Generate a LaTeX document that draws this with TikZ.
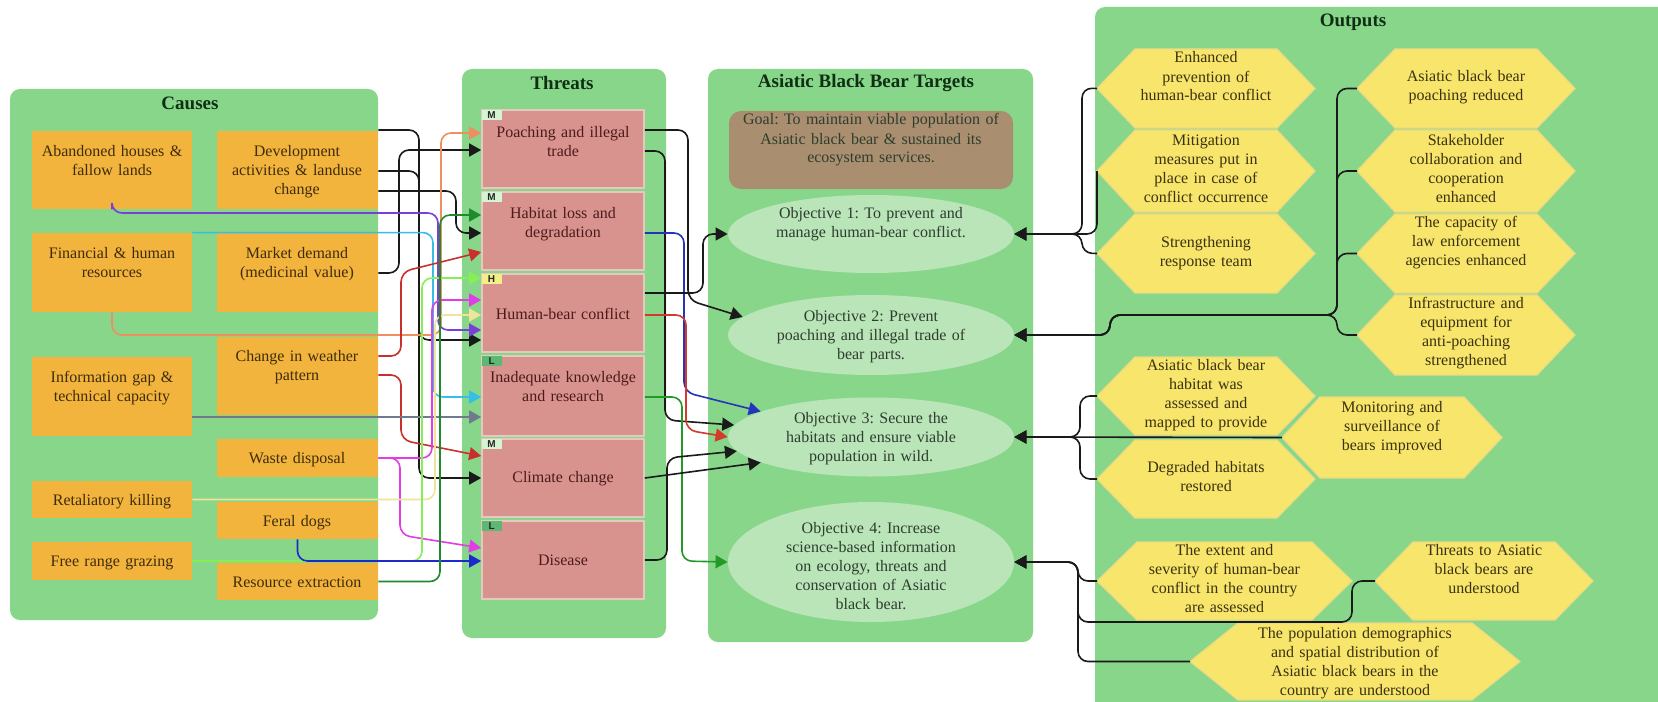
\documentclass[tikz,border=0pt]{standalone}
\usepackage{fontspec}
\setmainfont{Liberation Serif}
\setsansfont{Liberation Sans}
\usetikzlibrary{arrows.meta,shapes.geometric,fit}
\frenchspacing
\definecolor{panelg}{HTML}{88D68A}
\definecolor{corange}{HTML}{F2B43C}
\definecolor{tpink}{HTML}{D9938F}
\definecolor{tborder}{HTML}{E4C9BE}
\definecolor{goalc}{HTML}{A98F6F}
\definecolor{ellc}{HTML}{B9E5B9}
\definecolor{hexc}{HTML}{F8E56C}
\definecolor{hexb}{HTML}{EADB84}
\definecolor{titlec}{HTML}{0F2F14}
\definecolor{ctextc}{HTML}{3E2C0C}
\definecolor{ttextc}{HTML}{4B1B1B}
\definecolor{etextc}{HTML}{2E3D2E}
\definecolor{htextc}{HTML}{3A3210}
\definecolor{tagM}{HTML}{D4F4D4}
\definecolor{tagH}{HTML}{F3EF86}
\definecolor{tagL}{HTML}{5CB872}
\definecolor{lblack}{HTML}{1A1A1A}
\definecolor{lorange}{HTML}{EE8F62}
\definecolor{lpurple}{HTML}{7A3FD6}
\definecolor{lcyan}{HTML}{35BFE6}
\definecolor{lred}{HTML}{C9302C}
\definecolor{lgray}{HTML}{6F7A8C}
\definecolor{lmag}{HTML}{E23CE6}
\definecolor{lyellow}{HTML}{F0E39A}
\definecolor{llime}{HTML}{86EE56}
\definecolor{lblue}{HTML}{1C2ACB}
\definecolor{ldgreen}{HTML}{1F8B2C}
\definecolor{tblue}{HTML}{2534B8}
\definecolor{tred}{HTML}{D33A2A}
\definecolor{tgreen}{HTML}{239A28}
\newcommand{\hexo}[8]{%
  \fill[hexf] (#2,{(#4+#5)/2}) -- (#2+#6,#4) -- (#3-#6,#4) -- (#3,{(#4+#5)/2}) -- (#3-#6,#5) -- (#2+#6,#5) -- cycle;
  \coordinate (#1-l) at (#2,{(#4+#5)/2});
  \node[htext] (#1) at ({(#2+#3)/2},#7) {#8};
}
\begin{document}
\begin{tikzpicture}[x=0.5pt,y=-0.5pt,
  panel/.style={fill=panelg, rounded corners=5pt},
  ptitle/.style={font=\fontsize{9.5}{11}\selectfont\bfseries, text=titlec, inner sep=0},
  cbox/.style={fill=corange, inner sep=0},
  ctext/.style={font=\fontsize{8}{9.5}\selectfont, text=ctextc, align=center, inner sep=0, anchor=base, text width=80pt},
  tbox/.style={fill=tpink, draw=tborder, line width=0.8pt, inner sep=0},
  ttext/.style={font=\fontsize{8}{9.5}\selectfont, text=ttextc, align=center, inner sep=0, anchor=base, text width=80pt},
  tagbox/.style={font=\sffamily\bfseries\fontsize{5}{5}\selectfont, inner sep=0.6pt, minimum width=10pt, minimum height=5pt, anchor=north west, align=left, text=black!85},
  goalbox/.style={fill=goalc, rounded corners=6pt, inner sep=0},
  objell/.style={ellipse, fill=ellc, inner sep=0},
  etext/.style={font=\fontsize{8}{9.5}\selectfont, text=etextc, align=center, inner sep=0, anchor=base, text width=140pt},
  hexf/.style={fill=hexc, draw=hexb, line width=0.6pt},
  htext/.style={font=\fontsize{8}{9.5}\selectfont, text=htextc, align=center, inner sep=0, anchor=base, text width=120pt},
  arr/.style={-{Triangle[length=6pt,width=6.5pt]}, line width=0.8pt, rounded corners=5pt}]
\useasboundingbox (0,0) rectangle (1658,701);
\fill[white] (0,0) rectangle (1658,701);
% panels
\fill[panel] (10,89) rectangle (378,620);
\fill[panel] (462,69) rectangle (666,638);
\fill[panel] (708,69) rectangle (1033,642);
\fill[panel] (1095,7) rectangle (1680,720);
\node[ptitle] (tcause) at (190,103) {Causes};
\node[ptitle] (tthreat) at (562,83) {Threats};
\node[ptitle] (ttarget) at (866,83) {Asiatic Black Bear Targets};
\node[ptitle] (toutput) at (1353,22) {Outputs};
% causes
\node[cbox, fit={(32,131) (192,209)}] (abandon) {};
\node[cbox, fit={(217,131) (378,209)}] (dev) {};
\node[cbox, fit={(32,233) (192,312)}] (fin) {};
\node[cbox, fit={(217,233) (378,312)}] (market) {};
\node[cbox, fit={(217,337) (378,415)}] (weather) {};
\node[cbox, fit={(32,357) (192,436)}] (info) {};
\node[cbox, fit={(217,439) (378,477)}] (waste) {};
\node[cbox, fit={(32,481) (192,518)}] (retal) {};
\node[cbox, fit={(217,502) (378,539)}] (feral) {};
\node[cbox, fit={(32,542) (192,580)}] (free) {};
\node[cbox, fit={(217,563) (378,600)}] (resource) {};
\node[ctext] (abandon-t) at (112,156) {Abandoned houses \&\\fallow lands};
\node[ctext] (dev-t) at (297,156) {Development\\activities \& landuse\\change};
\node[ctext] (fin-t) at (112,258) {Financial \& human\\resources};
\node[ctext] (market-t) at (297,258) {Market demand\\(medicinal value)};
\node[ctext] (weather-t) at (297,361) {Change in weather\\pattern};
\node[ctext] (info-t) at (112,382) {Information gap \&\\technical capacity};
\node[ctext] (waste-t) at (297,463) {Waste disposal};
\node[ctext] (retal-t) at (112,505) {Retaliatory killing};
\node[ctext] (feral-t) at (297,526) {Feral dogs};
\node[ctext] (free-t) at (112,566) {Free range grazing};
\node[ctext] (resource-t) at (297,587) {Resource extraction};
% threats
\node[tbox, fit={(482,110) (644,188)}] (poach) {};
\node[tbox, fit={(482,192) (644,270)}] (habitat) {};
\node[tbox, fit={(482,274) (644,352)}] (human) {};
\node[tbox, fit={(482,356) (644,436)}] (inadequate) {};
\node[tbox, fit={(482,439) (644,517)}] (climate) {};
\node[tbox, fit={(482,521) (644,599)}] (disease) {};
\node[ttext] (poach-t) at (563,137) {Poaching and illegal\\trade};
\node[ttext] (habitat-t) at (563,218) {Habitat loss and\\degradation};
\node[ttext] (human-t) at (563,319) {Human-bear conflict};
\node[ttext] (inadequate-t) at (563,382) {Inadequate knowledge\\and research};
\node[ttext] (climate-t) at (563,482) {Climate change};
\node[ttext] (disease-t) at (563,565) {Disease};
\node[tagbox, fill=tagM] (tag1) at (poach.north west) {M};
\node[tagbox, fill=tagM] (tag2) at (habitat.north west) {M};
\node[tagbox, fill=tagH] (tag3) at (human.north west) {H};
\node[tagbox, fill=tagL] (tag4) at (inadequate.north west) {L};
\node[tagbox, fill=tagM] (tag5) at (climate.north west) {M};
\node[tagbox, fill=tagL] (tag6) at (disease.north west) {L};
% targets
\node[goalbox, fit={(729,111) (1013,189)}] (goal) {};
\node[etext] (goal-t) at (871,125) {Goal: To maintain viable population of\\Asiatic black bear \& sustained its\\ecosystem services.};
\node[objell, minimum width=143pt, minimum height=39pt] (obj1) at (871,234) {};
\node[objell, minimum width=143pt, minimum height=40pt] (obj2) at (871,335) {};
\node[objell, minimum width=143pt, minimum height=39.5pt] (obj3) at (871,437) {};
\node[objell, minimum width=143pt, minimum height=60pt] (obj4) at (871,562) {};
\node[etext] (obj1-t) at (871,218) {Objective 1: To prevent and\\manage human-bear conflict.};
\node[etext] (obj2-t) at (871,321) {Objective 2: Prevent\\poaching and illegal trade of\\bear parts.};
\node[etext] (obj3-t) at (871,423) {Objective 3: Secure the\\habitats and ensure viable\\population in wild.};
\node[etext] (obj4-t) at (871,533) {Objective 4: Increase\\science-based information\\on ecology, threats and\\conservation of Asiatic\\black bear.};
% outputs
\hexo{enh}{1097}{1315}{49}{128}{38}{63}{Enhanced\\prevention of\\human-bear conflict}
\hexo{mit}{1097}{1315}{130}{212}{38}{145}{Mitigation\\measures put in\\place in case of\\conflict occurrence}
\hexo{str}{1097}{1315}{214}{293}{38}{247}{Strengthening\\response team}
\hexo{prd}{1357}{1575}{49}{128}{38}{82}{Asiatic black bear\\poaching reduced}
\hexo{stake}{1357}{1575}{130}{212}{38}{145}{Stakeholder\\collaboration and\\cooperation\\enhanced}
\hexo{cap}{1357}{1575}{214}{293}{38}{227}{The capacity of\\law enforcement\\agencies enhanced}
\hexo{infra}{1357}{1575}{295}{375}{38}{308}{Infrastructure and\\equipment for\\anti-poaching\\strengthened}
\hexo{hab}{1097}{1315}{357}{435}{38}{370}{Asiatic black bear\\habitat was\\assessed and\\mapped to provide}
\hexo{mon}{1282}{1502}{397}{478}{38}{412}{Monitoring and\\surveillance of\\bears improved}
\hexo{deg}{1097}{1315}{440}{518}{38}{472}{Degraded habitats\\restored}
\hexo{ext}{1097}{1352}{542}{620}{40}{555}{The extent and\\severity of human-bear\\conflict in the country\\are assessed}
\hexo{thr}{1375}{1593}{542}{620}{38}{555}{Threats to Asiatic\\black bears are\\understood}
\hexo{pop}{1190}{1520}{623}{700}{48}{638}{The population demographics\\and spatial distribution of\\Asiatic black bears in the\\country are understood}
% cause -> threat
\draw[arr, lblack] (dev.east |- 0,130) -| (419,340) -- (human.west |- 0,340);
\draw[arr, lblack] (dev.east |- 0,171) -| (419,478) -- (climate.west |- 0,478);
\draw[arr, lblack] (dev.east |- 0,191) -| (456,233) -- (habitat.west |- 0,233);
\draw[arr, lblack] (market.east |- 0,273) -| (399,150) -- (poach.west |- 0,150);
\draw[arr, lorange] (fin.south) |- (441,335) |- (poach.west |- 0,133);
\draw[arr, lpurple] (abandon.south) |- (438,213) |- (human.west |- 0,330);
\draw[arr, lcyan] (fin.north east) -| (433,397) -- (inadequate.west |- 0,397);
\draw[arr, lred] (weather.east |- 0,356) -| (401,272) -- (habitat.west |- 0,252);
\draw[arr, lred] (weather.east |- 0,375) -| (401,440) -- (climate.west |- 0,456);
\draw[arr, lgray] (info.east |- 0,417) -- (inadequate.west |- 0,417);
\draw[arr, lmag] (waste.east) -| (432,300) -- (human.west |- 0,300);
\draw[arr, lmag] (waste.east) -| (400,535) -- (disease.west |- 0,548);
\draw[arr, lyellow] (retal.east) -| (435,315) -- (human.west |- 0,315);
\draw[arr, llime] (free.east) -| (422,278) -- (human.west |- 0,278);
\draw[arr, lblue] (feral.south) |- (disease.west |- 0,561);
\draw[arr, ldgreen] (resource.east) -| (440,215) -- (habitat.west |- 0,215);
% threat -> target
\draw[arr, lblack] (poach.east |- 0,130) -| (688,300) -- (obj2.172);
\draw[arr, lblack] (poach.east |- 0,151) -| (665,420) -- (obj3.175);
\draw[arr, tblue] (habitat.east |- 0,233) -| (684,392) -- (obj3.167);
\draw[arr, lblack] (human.east |- 0,293) -| (703,234) -- (obj1.west);
\draw[arr, tred] (human.east |- 0,315) -| (686,430) -- (obj3.west);
\draw[arr, tgreen] (inadequate.east |- 0,397) -| (682,561) -- (obj4.west);
\draw[arr, lblack] (climate.east) -- (obj3.193);
\draw[arr, lblack] (disease.east) -| (667,458) -- (obj3.186);
% output -> target
\draw[arr, lblack] (enh-l) -- (1082,88) |- (obj1.east);
\draw[arr, lblack] (mit-l) |- (obj1.east);
\draw[arr, lblack] (str-l) -- (1082,253) |- (obj1.east);
\draw[arr, lblack] (prd-l) -| (1337,315) -| (1110,335) -- (obj2.east);
\draw[arr, lblack] (stake-l) -| (1337,315) -| (1110,335) -- (obj2.east);
\draw[arr, lblack] (cap-l) -| (1337,315) -| (1110,335) -- (obj2.east);
\draw[arr, lblack] (infra-l) -| (1337,315) -| (1110,335) -- (obj2.east);
\draw[arr, lblack] (hab-l) -- (1080,396) |- (obj3.east);
\draw[arr, lblack] (mon-l) -- (obj3.east);
\draw[arr, lblack] (deg-l) -- (1080,479) |- (obj3.east);
\draw[arr, lblack] (ext-l) -- (1078,581) |- (obj4.east);
\draw[arr, lblack] (thr-l) -| (1352,622) -| (1078,562) -- (obj4.east);
\draw[arr, lblack] (pop-l) -| (1078,562) -- (obj4.east);
\end{tikzpicture}
\end{document}
